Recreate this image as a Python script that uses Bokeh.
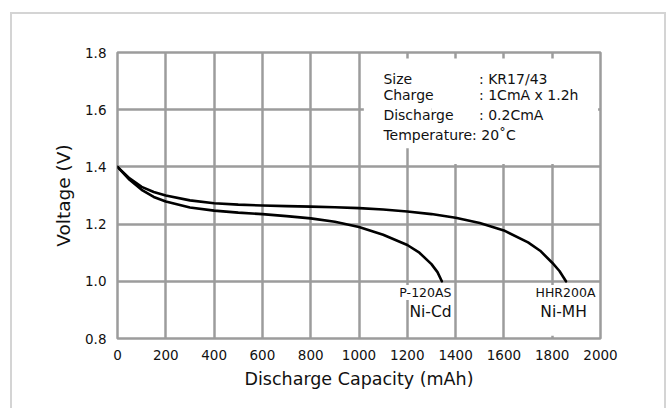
from bokeh.plotting import figure
from bokeh.models import FixedTicker, PrintfTickFormatter, Label, BoxAnnotation, Range1d
from bokeh.embed import file_html
from bokeh.resources import INLINE

# ---- data ----
nicd_x = [0, 50, 100, 150, 200, 300, 400, 500, 600, 700, 800, 900, 1000, 1100, 1200, 1250, 1300, 1325, 1343]
nicd_v = [1.40, 1.355, 1.32, 1.295, 1.279, 1.258, 1.247, 1.240, 1.235, 1.228, 1.220, 1.208, 1.190, 1.163, 1.127, 1.100, 1.060, 1.032, 1.00]

nimh_x = [0, 50, 100, 150, 200, 300, 400, 500, 600, 700, 800, 900, 1000, 1100, 1200, 1300, 1400, 1500, 1600, 1700, 1750, 1800, 1830, 1857]
nimh_v = [1.40, 1.36, 1.33, 1.312, 1.300, 1.283, 1.273, 1.268, 1.265, 1.263, 1.261, 1.259, 1.256, 1.251, 1.244, 1.235, 1.222, 1.204, 1.178, 1.136, 1.107, 1.065, 1.036, 1.00]

x_ticks = [0, 200, 400, 600, 800, 1000, 1200, 1400, 1600, 1800, 2000]
y_ticks = [0.8, 1.0, 1.2, 1.4, 1.6, 1.8]

info_keys = ["Size", "Charge", "Discharge", "Temperature: 20\u02daC"]
info_vals = [": KR17/43", ": 1CmA x 1.2h", ": 0.2CmA", ""]
info_y = [1.706, 1.653, 1.580, 1.510]

FONT = "DejaVu Sans"
GRID = "#9c9c9c"
INK = "#111111"

# the page frame: a light border starting at (10, 12); the figure sits inside it
p = figure(width=656, height=396, output_backend="svg", toolbar_location=None,
           x_range=Range1d(0, 2000), y_range=Range1d(0.8, 1.8),
           min_border_left=105, min_border_right=68, min_border_top=38, min_border_bottom=72)
p.styles = {"margin-left": "10px", "margin-top": "12px",
            "border-left": "2px solid #d4d4d4", "border-top": "2px solid #d4d4d4",
            "border-right": "2px solid #d4d4d4"}
p.background_fill_color = "white"
p.border_fill_color = "white"
p.outline_line_color = GRID
p.outline_line_width = 2.5

for ax, ticks in ((p.xaxis[0], x_ticks), (p.yaxis[0], y_ticks)):
    ax.ticker = FixedTicker(ticks=ticks)
    ax.axis_line_color = None
    ax.major_tick_line_color = None
    ax.minor_tick_line_color = None
    ax.major_label_text_font = FONT
    ax.major_label_text_font_size = "13.5px"
    ax.major_label_text_color = INK
    ax.axis_label_text_font = FONT
    ax.axis_label_text_font_style = "normal"
    ax.axis_label_text_color = INK

p.yaxis.formatter = PrintfTickFormatter(format="%.1f")
p.xaxis.formatter = PrintfTickFormatter(format="%d")
p.xaxis.axis_label = "Discharge Capacity (mAh)"
p.yaxis.axis_label = "Voltage (V)"
p.xaxis.axis_label_text_font_size = "17.5px"
p.yaxis.axis_label_text_font_size = "18.5px"
p.xaxis.major_label_standoff = 5
p.yaxis.major_label_standoff = 5
p.xaxis.axis_label_standoff = 6
p.yaxis.axis_label_standoff = 8

p.xgrid.ticker = FixedTicker(ticks=x_ticks)
p.ygrid.ticker = FixedTicker(ticks=y_ticks)
for g in (p.xgrid[0], p.ygrid[0]):
    g.grid_line_color = GRID
    g.grid_line_width = 2.5

# white panel behind the test conditions
p.add_layout(BoxAnnotation(left=1020, right=1300, bottom=1.465, top=1.779,
                           fill_color="white", fill_alpha=1, line_color=None, level="underlay"))
p.add_layout(BoxAnnotation(left=1300, right=1990, bottom=1.41, top=1.779,
                           fill_color="white", fill_alpha=1, line_color=None, level="underlay"))
# white patch behind the Ni-MH labels
p.add_layout(BoxAnnotation(left=1730, right=1985, bottom=0.81, top=0.985,
                           fill_color="white", fill_alpha=1, line_color=None, level="underlay"))

p.line(nicd_x, nicd_v, line_color="black", line_width=2.6, line_join="round", line_cap="round")
p.line(nimh_x, nimh_v, line_color="black", line_width=2.6, line_join="round", line_cap="round")

for k, v, y in zip(info_keys, info_vals, info_y):
    p.add_layout(Label(x=1101, y=y, text=k, text_font=FONT, text_font_size="14px",
                       text_color=INK, text_baseline="alphabetic", text_align="left"))
    if v:
        p.add_layout(Label(x=1497, y=y, text=v, text_font=FONT, text_font_size="14px",
                           text_color=INK, text_baseline="alphabetic", text_align="left"))

curve_labels = [("P-120AS", 1275, 0.961, "12.5px"), ("Ni-Cd", 1296, 0.894, "15.5px"),
                ("HHR200A", 1855, 0.961, "12.5px"), ("Ni-MH", 1847, 0.894, "15.5px")]
for t, x, y, fs in curve_labels:
    p.add_layout(Label(x=x, y=y, text=t, text_font=FONT, text_font_size=fs, text_color=INK,
                       text_align="center", text_baseline="middle",
                       background_fill_color="white", background_fill_alpha=1))

open("out.html", "w").write(file_html(p, INLINE))
